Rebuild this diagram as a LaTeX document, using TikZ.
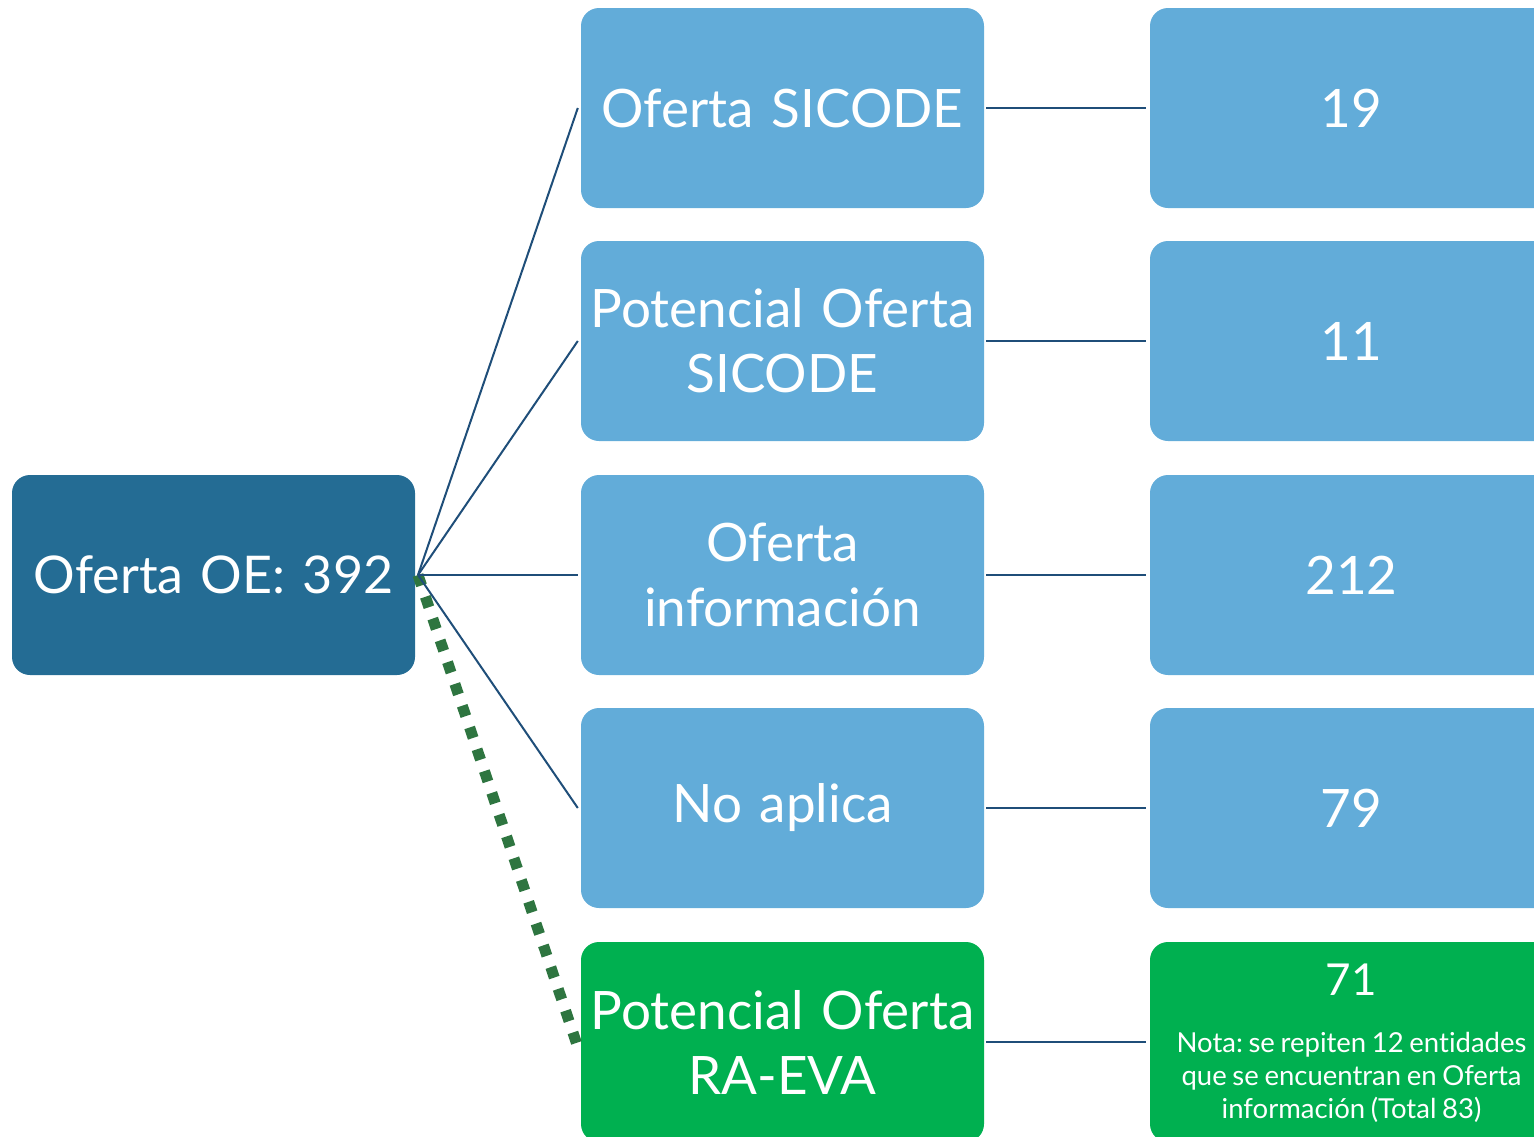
\documentclass[tikz,border=0pt]{standalone}
\usepackage{fontspec}
\setmainfont[WordSpace=0.8,RawFeature=-liga]{Lato}
\frenchspacing
\definecolor{rootblue}{RGB}{36,108,148}
\definecolor{lightblue}{RGB}{98,172,217}
\definecolor{boxgreen}{RGB}{0,176,80}
\definecolor{linkblue}{RGB}{31,78,121}
\definecolor{dotgreen}{RGB}{46,117,64}
\begin{document}
\begin{tikzpicture}[x=1pt,y=-1pt,
  box/.style={rectangle,rounded corners=18pt,text width=403pt,minimum height=200pt,
    inner sep=0pt,text=white,align=center,font=\fontsize{53}{65}\selectfont},
  bluebox/.style={box,fill=lightblue},
  greenbox/.style={box,fill=boxgreen},
  link/.style={draw=linkblue,line width=2pt},
  dotlink/.style={draw=dotgreen,line width=11pt,dash pattern=on 11pt off 12pt}]
\useasboundingbox (0,0) rectangle (1534,1136);
\clip (0,0) rectangle (1534,1136);
\node[box,fill=rootblue,font=\fontsize{52}{60}\selectfont] (root) at (213.5,575) {Oferta OE: 392};
\coordinate (hub) at (418,575);
\node[bluebox] (m1) at (782.5,108) {Oferta SICODE};
\node[bluebox] (m2) at (782.5,341) {Potencial Oferta\\SICODE};
\node[bluebox] (m3) at (782.5,575) {Oferta\\información};
\node[bluebox] (m4) at (782.5,808) {No aplica};
\node[greenbox] (m5) at (782.5,1042) {Potencial Oferta\\RA-EVA};
\node[bluebox] (r1) at (1351.5,108) {19};
\node[bluebox] (r2) at (1351.5,341) {11};
\node[bluebox] (r3) at (1351.5,575) {212};
\node[bluebox] (r4) at (1351.5,808) {79};
\node[greenbox] (r5) at (1351.5,1042) {};
\node[text=white,font=\fontsize{44}{50}\selectfont] (n71) at (1351.5,980) {71};
\node[text=white,align=center,font=\fontsize{27.5}{33}\selectfont] (nota) at (1351.5,1077)
  {Nota: se repiten 12 entidades\\que se encuentran en Oferta\\información (Total 83)};
\draw[dotlink] (hub) -- ([xshift=-4pt,yshift=-2pt]m5.west);
\foreach \i in {1,...,4}{
  \draw[link] (hub) -- ([xshift=-3pt]m\i.west);
}
\foreach \i in {1,...,5}{
  \draw[link] ([xshift=2pt]m\i.east) -- ([xshift=-4pt]r\i.west);
}
\end{tikzpicture}
\end{document}
